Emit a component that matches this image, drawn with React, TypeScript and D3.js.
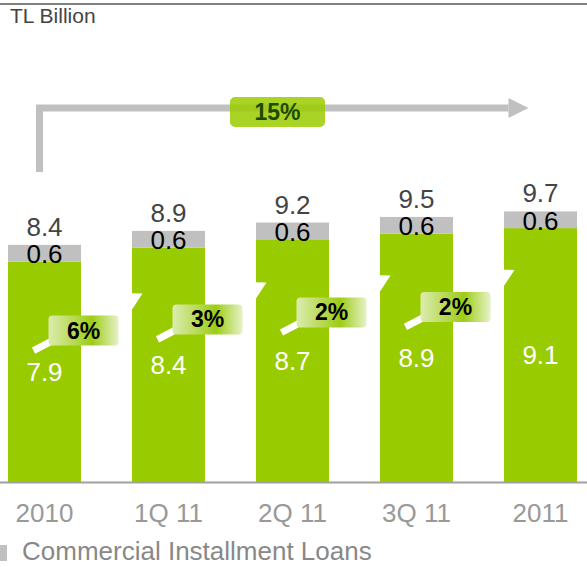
import React from "react";
import * as d3 from "d3";

const categories = ["2010", "1Q 11", "2Q 11", "3Q 11", "2011"];
const installmentValues = [7.9, 8.4, 8.7, 8.9, 9.1];
const otherValues = [0.6, 0.6, 0.6, 0.6, 0.6];
const totalLabels = ["8.4", "8.9", "9.2", "9.5", "9.7"];
const growthLabels = ["6%", "3%", "2%", "2%"];
const cagrLabel = "15%";
const unitLabel = "TL Billion";
const legendLabel = "Commercial Installment Loans";

const W = 587;
const H = 567;
const GREEN = "#99cc00";
const GRAY = "#c0c0c0";
const FONT = "'Liberation Sans', Arial, sans-serif";
const FS = 26;

export default function App() {
  const x = d3.scaleBand<string>().domain(categories).range([8, 577]).paddingInner(0.411).paddingOuter(0);
  const y = d3.scaleLinear().domain([0, 10]).range([482, 203]);
  const bw = x.bandwidth();
  const cx = (i: number) => (x(categories[i]) as number) + bw / 2;

  // bracket arrow geometry
  const bx0 = cx(0) - 5;
  const bx1 = cx(categories.length - 1) - 12;
  const by = 108;
  const byBottom = 172;
  const cagrCx = cx(2) - 15;

  return (
    <svg width={W} height={H} style={{ position: "absolute", left: 0, top: 0, fontFamily: FONT }}>
      <defs>
        <linearGradient id="gbox" x1="0" x2="1" y1="0" y2="0">
          <stop offset="0" stopColor="#dcecb0" />
          <stop offset="0.62" stopColor="#9dcc14" />
          <stop offset="1" stopColor="#e6f2c8" />
        </linearGradient>
      </defs>
      <rect x={0} y={0} width={W} height={H} fill="#fff" />
      <line x1={0} x2={W} y1={4} y2={4} stroke="#808080" strokeWidth={2} />
      <text x={10} y={23} fontSize={21} fill="#444">{unitLabel}</text>

      {/* bracket arrow */}
      <path d={`M${bx0},${byBottom} V${by} H${bx1 - 20}`} fill="none" stroke={GRAY} strokeWidth={7} />
      <path d={`M${bx1 - 20},${by - 10} L${bx1},${by} L${bx1 - 20},${by + 10} Z`} fill={GRAY} />
      <rect x={cagrCx - 47.5} y={97} width={95} height={30} rx={5} fill="#9acd00" fillOpacity={0.85} />
      <text x={cagrCx} y={112} fontSize={23} fontWeight="bold" fill="#1e4a00" textAnchor="middle" dominantBaseline="central">{cagrLabel}</text>

      {/* bars */}
      {categories.map((c, i) => {
        const g = installmentValues[i];
        const o = otherValues[i];
        const x0 = x(c) as number;
        return (
          <g key={c}>
            <rect x={x0} y={y(g)} width={bw} height={y(0) - y(g)} fill={GREEN} />
            <rect x={x0} y={y(g + o)} width={bw} height={y(g) - y(g + o)} fill={GRAY} />
            <text x={cx(i)} y={(y(g) + y(g + o)) / 2 + 1} fontSize={FS} fill="#000" textAnchor="middle" dominantBaseline="central">{o.toFixed(1)}</text>
            <text x={cx(i)} y={(y(0) + y(g)) / 2} fontSize={FS} fill="#fff" textAnchor="middle" dominantBaseline="central">{g.toFixed(1)}</text>
            <text x={cx(i)} y={y(g + o) - 9} fontSize={FS} fill="#444" textAnchor="middle">{totalLabels[i]}</text>
            <text x={cx(i)} y={522} fontSize={FS} fill="#999" textAnchor="middle">{c}</text>
          </g>
        );
      })}

      {/* growth arrows and boxes */}
      {growthLabels.map((lab, i) => {
        const mid = (installmentValues[i] + installmentValues[i + 1]) / 2;
        const bcx = cx(i) + 39;
        const bcy = y(mid) + 76;
        const sx = bcx - 50;
        const sy = bcy + 20;
        const tx = sx + 109;
        const ty = sy - 57;
        const ang = Math.atan2(ty - sy, tx - sx);
        const hl = 18;
        const hw = 10;
        const bxp = tx - hl * Math.cos(ang);
        const byp = ty - hl * Math.sin(ang);
        const px = -Math.sin(ang);
        const py = Math.cos(ang);
        return (
          <g key={i}>
            <line x1={sx} y1={sy} x2={bxp} y2={byp} stroke="#fff" strokeWidth={7} />
            <path d={`M${tx},${ty} L${bxp + px * hw},${byp + py * hw} L${bxp - px * hw},${byp - py * hw} Z`} fill="#fff" />
            <rect x={bcx - 35} y={bcy - 15} width={70} height={30} rx={4} fill="url(#gbox)" />
            <text x={bcx} y={bcy} fontSize={23} fontWeight="bold" fill="#000" textAnchor="middle" dominantBaseline="central">{lab}</text>
          </g>
        );
      })}

      <line x1={0} x2={W} y1={y(0) + 0.5} y2={y(0) + 0.5} stroke="#a0a0a0" strokeWidth={2} />

      {/* legend */}
      <rect x={0} y={545} width={7} height={16} fill={GRAY} />
      <text x={22} y={560} fontSize={26} fill="#888">{legendLabel}</text>
    </svg>
  );
}
